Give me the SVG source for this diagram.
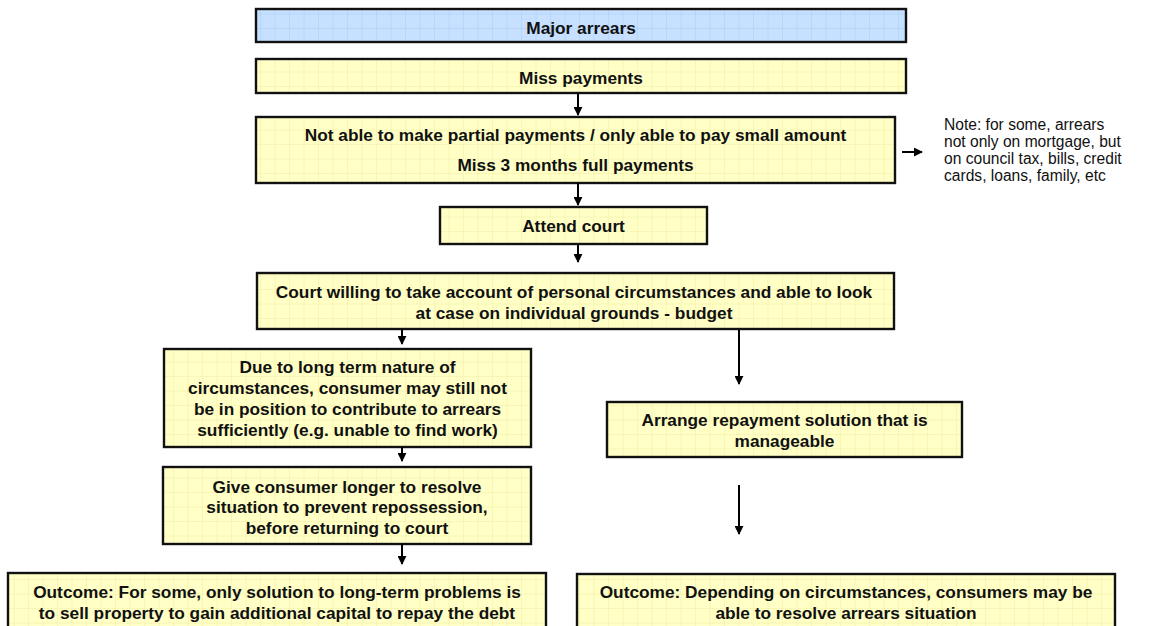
<svg xmlns="http://www.w3.org/2000/svg" width="1154" height="626" viewBox="0 0 1154 626">
  <defs>
    <!-- light grid textures used as box fills -->
    <pattern id="gridYellow" width="14.5" height="14.5" patternUnits="userSpaceOnUse">
      <rect width="14.5" height="14.5" fill="#FFFFC6"/>
      <path d="M14.5 0V14.5M0 14.5H14.5" stroke="#F2EEA6" stroke-width="1" fill="none"/>
    </pattern>
    <pattern id="gridBlue" width="14.5" height="14.5" patternUnits="userSpaceOnUse">
      <rect width="14.5" height="14.5" fill="#C7E0FF"/>
      <path d="M14.5 0V14.5M0 14.5H14.5" stroke="#A6CDF7" stroke-width="1" fill="none"/>
    </pattern>
    <marker id="head" viewBox="0 0 10 10" refX="9" refY="5" markerWidth="4.5" markerHeight="4.5" orient="auto" markerUnits="strokeWidth">
      <path d="M0 0L10 5L0 10z" fill="#000"/>
    </marker>
  </defs>
  <style>
    .box { stroke: #111; stroke-width: 2.4; }
    .y { fill: url(#gridYellow); }
    .b { fill: url(#gridBlue); }
    .t { font-family: "Liberation Sans", Arial, sans-serif; font-size: 17.3px; font-weight: bold; fill: #111; text-anchor: middle; }
    .note { font-family: "Liberation Sans", Arial, sans-serif; font-size: 15.6px; fill: #111; }
    .arr { stroke: #000; stroke-width: 2; fill: none; marker-end: url(#head); }
  </style>
  <rect width="1154" height="626" fill="#fff"/>

  <g id="major-arrears">
    <rect class="box b" x="256" y="9" width="650" height="33"/>
    <text class="t" x="581" y="34">Major arrears</text>
  </g>

  <g id="miss-payments">
    <rect class="box y" x="256" y="59" width="650" height="34"/>
    <text class="t" x="581" y="83.5">Miss payments</text>
  </g>

  <g id="partial-payments">
    <rect class="box y" x="256" y="117" width="639" height="66"/>
    <text class="t" x="575.5" y="141">Not able to make partial payments / only able to pay small amount</text>
    <text class="t" x="575.5" y="171">Miss 3 months full payments</text>
  </g>

  <g id="note">
    <text class="note" x="944" y="130">Note: for some, arrears</text>
    <text class="note" x="944" y="147">not only on mortgage, but</text>
    <text class="note" x="944" y="164">on council tax, bills, credit</text>
    <text class="note" x="944" y="181">cards, loans, family, etc</text>
  </g>

  <g id="attend-court">
    <rect class="box y" x="440" y="207" width="267" height="37"/>
    <text class="t" x="573.5" y="232">Attend court</text>
  </g>

  <g id="court-willing">
    <rect class="box y" x="257" y="273" width="637" height="56"/>
    <text class="t" x="574" y="298">Court willing to take account of personal circumstances and able to look</text>
    <text class="t" x="574" y="319">at case on individual grounds - budget</text>
  </g>

  <g id="long-term">
    <rect class="box y" x="164" y="349" width="367" height="98"/>
    <text class="t" x="347.5" y="373">Due to long term nature of</text>
    <text class="t" x="347.5" y="394">circumstances, consumer may still not</text>
    <text class="t" x="347.5" y="415">be in position to contribute to arrears</text>
    <text class="t" x="347.5" y="436">sufficiently (e.g. unable to find work)</text>
  </g>

  <g id="give-longer">
    <rect class="box y" x="163" y="467" width="368" height="77"/>
    <text class="t" x="347" y="493">Give consumer longer to resolve</text>
    <text class="t" x="347" y="513">situation to prevent repossession,</text>
    <text class="t" x="347" y="534">before returning to court</text>
  </g>

  <g id="outcome-sell">
    <rect class="box y" x="8" y="573" width="538" height="70"/>
    <text class="t" x="277" y="598">Outcome: For some, only solution to long-term problems is</text>
    <text class="t" x="277" y="619">to sell property to gain additional capital to repay the debt</text>
  </g>

  <g id="repayment">
    <rect class="box y" x="607" y="402" width="355" height="55"/>
    <text class="t" x="784.5" y="426">Arrange repayment solution that is</text>
    <text class="t" x="784.5" y="447">manageable</text>
  </g>

  <g id="outcome-resolve">
    <rect class="box y" x="577" y="574" width="538" height="70"/>
    <text class="t" x="846" y="598">Outcome: Depending on circumstances, consumers may be</text>
    <text class="t" x="846" y="619">able to resolve arrears situation</text>
  </g>

  <g id="connectors">
    <line class="arr" x1="578" y1="93" x2="578" y2="115"/>
    <line class="arr" x1="578" y1="183" x2="578" y2="205"/>
    <line class="arr" x1="578" y1="244" x2="578" y2="262"/>
    <line class="arr" x1="902" y1="152" x2="922" y2="152"/>
    <line class="arr" x1="402" y1="329" x2="402" y2="344"/>
    <line class="arr" x1="402" y1="447" x2="402" y2="461"/>
    <line class="arr" x1="402" y1="544" x2="402" y2="564"/>
    <line class="arr" x1="739" y1="330" x2="739" y2="384"/>
    <line class="arr" x1="739" y1="485" x2="739" y2="534"/>
  </g>
</svg>
